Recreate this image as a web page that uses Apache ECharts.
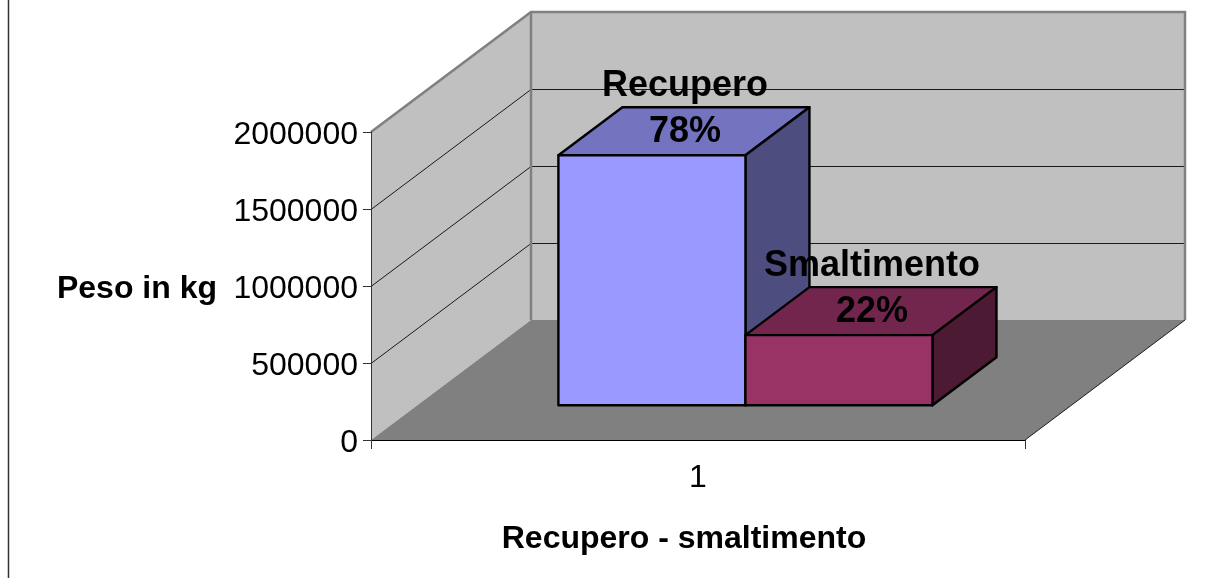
<!DOCTYPE html>
<html>
<head>
<meta charset="utf-8">
<title>Recupero - smaltimento</title>
<script src="https://cdn.jsdelivr.net/npm/echarts@6/dist/echarts.min.js"></script>
<style>
  html, body { margin: 0; padding: 0; background: #fff; }
  #chart { width: 1218px; height: 578px; }
</style>
</head>
<body>
<div id="chart"></div>
<script>
(function() {
  'use strict';

  // === Data ===
  var categories = ['1'];
  var seriesNames = ['Recupero', 'Smaltimento'];
  var seriesValues = [1623000, 455000];
  var seriesPercents = ['78%', '22%'];
  var gridValues = [500000, 1000000, 1500000];
  var frontColors = ['#9999ff', '#993366'];
  var topColors = ['#7373bf', '#73264d'];
  var sideColors = ['#4d4d80', '#4d1a33'];

  // === Layout constants ===
  var GRID_LEFT = 371;
  var GRID_TOP = 132;
  var GRID_WIDTH = 654;
  var GRID_HEIGHT = 308;
  var Y_MAX = 2000000;
  var Y_STEP = 500000;

  // full depth of the 3D box, in pixels
  var DEPTH_X = 160;
  var DEPTH_Y = 120;

  // bars sit inside the box
  var BAR_DEPTH_START = 0.29;
  var BAR_DEPTH = 0.4;
  var BAR_X_START = 0.2156;
  var BAR_WIDTH = 0.286;

  var FONT = '"Liberation Sans", Arial, sans-serif';
  var TICK_SIZE = 32;
  var TITLE_SIZE = 32;
  var BAR_LABEL_SIZE = 36;

  function poly(points, fill) {
    return { type: 'polygon', shape: { points: points }, style: { fill: fill, stroke: null } };
  }

  function line(points, color, width) {
    return {
      type: 'polyline',
      shape: { points: points },
      style: { fill: null, stroke: color, lineWidth: width }
    };
  }

  // --- Walls, floor and gridlines of the box ---
  function renderWalls(params, api) {
    var band = api.size([1, 0])[0];
    var mid = api.coord([0, 0]);
    var x0 = mid[0] - band / 2;
    var x1 = mid[0] + band / 2;
    var y0 = mid[1];
    var yTop = api.coord([0, Y_MAX])[1];
    var bx0 = x0 + DEPTH_X;
    var bx1 = x1 + DEPTH_X;
    var by0 = y0 - DEPTH_Y;
    var byTop = yTop - DEPTH_Y;

    var children = [
      poly([[x0, yTop], [bx0, byTop], [bx0, by0], [x0, y0]], '#c0c0c0'),
      poly([[bx0, byTop], [bx1, byTop], [bx1, by0], [bx0, by0]], '#c0c0c0'),
      poly([[x0, y0], [bx0, by0], [bx1, by0], [x1, y0]], '#808080')
    ];

    gridValues.forEach(function(v) {
      // half pixel so the 1px line stays crisp
      var y = Math.round(api.coord([0, v])[1]) + 0.5;
      children.push(line([[x0, y], [bx0, y - DEPTH_Y], [bx1, y - DEPTH_Y]], '#1a1a1a', 1));
    });

    children.push(line([[x0, yTop], [bx0, byTop], [bx1, byTop], [bx1, by0]], '#808080', 2.5));
    children.push(line([[bx0, byTop], [bx0, by0]], '#808080', 2.5));
    children.push(line([[x1, y0], [bx1, by0]], '#1a1a1a', 1));

    return { type: 'group', children: children };
  }

  // --- One 3D bar with its two line label ---
  function renderBar(params, api) {
    var i = params.dataIndex;
    var band = api.size([1, 0])[0];
    var base = api.coord([0, 0]);
    var top = api.coord([0, api.value(1)]);
    var dx = DEPTH_X * BAR_DEPTH;
    var dy = DEPTH_Y * BAR_DEPTH;

    var left = base[0] - band / 2 + DEPTH_X * BAR_DEPTH_START + band * (BAR_X_START + i * BAR_WIDTH);
    var right = left + band * BAR_WIDTH;
    var bottom = base[1] - DEPTH_Y * BAR_DEPTH_START;
    var yTop = top[1] - DEPTH_Y * BAR_DEPTH_START;

    var cx = (left + right + dx) / 2;
    var cy = yTop - dy / 2;

    function face(points, fill) {
      return {
        type: 'polygon',
        shape: { points: points },
        style: { fill: fill, stroke: '#000', lineWidth: 2.4, lineJoin: 'round' }
      };
    }

    function label(text, y) {
      return {
        type: 'text',
        x: cx + 1,
        y: y,
        style: {
          text: text,
          fill: '#000',
          font: 'bold ' + BAR_LABEL_SIZE + 'px ' + FONT,
          align: 'center',
          verticalAlign: 'middle'
        }
      };
    }

    return {
      type: 'group',
      children: [
        face([[left, yTop], [left + dx, yTop - dy], [right + dx, yTop - dy], [right, yTop]], topColors[i]),
        face([[right, yTop], [right + dx, yTop - dy], [right + dx, bottom - dy], [right, bottom]], sideColors[i]),
        face([[left, yTop], [right, yTop], [right, bottom], [left, bottom]], frontColors[i]),
        label(seriesNames[i], cy - 45),
        label(seriesPercents[i], cy + 1)
      ]
    };
  }

  var chart = echarts.init(document.getElementById('chart'), null, { renderer: 'canvas' });

  chart.setOption({
    animation: false,
    backgroundColor: '#fff',
    grid: {
      left: GRID_LEFT,
      top: GRID_TOP,
      width: GRID_WIDTH,
      height: GRID_HEIGHT,
      outerBoundsMode: 'none'
    },
    xAxis: {
      type: 'category',
      data: categories,
      z: 5,
      name: 'Recupero - smaltimento',
      nameLocation: 'middle',
      nameGap: 83,
      nameTextStyle: { fontFamily: FONT, fontSize: TITLE_SIZE, fontWeight: 'bold', color: '#000', padding: [0, 28, 0, 0] },
      axisLine: { lineStyle: { color: '#000', width: 1 } },
      axisTick: { show: true, length: 9, lineStyle: { color: '#333', width: 1 } },
      axisLabel: { fontFamily: FONT, fontSize: TICK_SIZE, color: '#000', margin: 22 }
    },
    yAxis: {
      type: 'value',
      min: 0,
      max: Y_MAX,
      interval: Y_STEP,
      z: 5,
      name: 'Peso in kg',
      nameLocation: 'middle',
      nameRotate: 0,
      nameGap: 154,
      // the picture sits its labels a few pixels under the tick
      nameTextStyle: {
        fontFamily: FONT,
        fontSize: TITLE_SIZE,
        fontWeight: 'bold',
        color: '#000',
        verticalAlign: 'top',
        lineHeight: 6
      },
      axisLine: { show: true, lineStyle: { color: '#333', width: 1 } },
      axisTick: { show: true, length: 8, lineStyle: { color: '#333', width: 1 } },
      axisLabel: {
        fontFamily: FONT,
        fontSize: TICK_SIZE,
        color: '#000',
        margin: 13,
        verticalAlign: 'top',
        lineHeight: 6,
        formatter: function(value) { return String(value); }
      },
      splitLine: { show: false }
    },
    // chart area edge, only the left side shows in the picture
    graphic: [{
      type: 'line',
      shape: { x1: 8.5, y1: 0, x2: 8.5, y2: 578 },
      style: { stroke: '#333', lineWidth: 1.5 }
    }],
    series: [
      {
        type: 'custom',
        name: 'walls',
        z: 1,
        silent: true,
        renderItem: renderWalls,
        data: [[0, 0]]
      },
      {
        type: 'custom',
        name: 'bars',
        z: 2,
        silent: true,
        renderItem: renderBar,
        data: seriesValues.map(function(v) { return [0, v]; })
      }
    ]
  });
})();
</script>
</body>
</html>
